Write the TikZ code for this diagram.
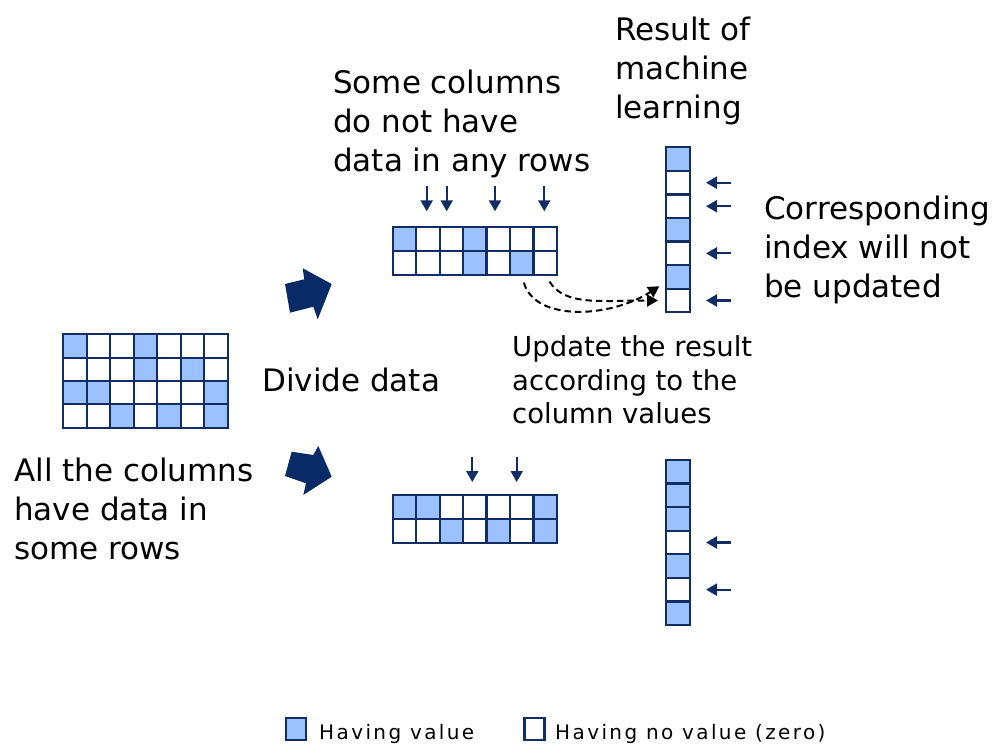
\documentclass[tikz,border=0pt]{standalone}
\usepackage{fontspec}
\setmainfont{DejaVu Sans}
\newfontfamily\legfont[LetterSpace=12]{DejaVu Sans}
\usetikzlibrary{arrows.meta}
\definecolor{cellfill}{RGB}{155,194,255}
\definecolor{navy}{RGB}{18,45,100}
\definecolor{arrownavy}{RGB}{8,42,102}
\tikzset{
  cellbase/.style={draw=navy, line width=2.2pt, inner sep=0pt, outer sep=0pt},
  cell1/.style={cellbase, fill=cellfill},
  cell0/.style={cellbase, fill=white},
  bigtxt/.style={font=\fontsize{31}{39}\selectfont, inner sep=0pt, anchor=base west, text=black},
  midtxt/.style={font=\fontsize{27.5}{33}\selectfont, inner sep=0pt, anchor=base west, text=black},
  legtxt/.style={font=\legfont\fontsize{20}{24}\selectfont, inner sep=0pt, anchor=base west, text=black},
  pointer/.style={draw=navy, line width=2.2pt, -{Triangle[width=12pt,length=11pt]}},
  dashlink/.style={draw=black, line width=2pt, dash pattern=on 6.5pt off 4pt,
    -{Triangle[width=12pt,length=11pt]}, shorten <=8pt, shorten >=8pt},
  blockarrow/.style={fill=arrownavy, draw=none},
}
\newcommand\mkgrid[6]{%
  \foreach \rowvals [count=\r] in {#6} {%
    \foreach \v [count=\c] in \rowvals {%
      \node[cell\v, minimum width=#4pt, minimum height=#5pt] (#1-\r-\c)
        at ({#2+(\c-0.5)*#4},{#3+(\r-0.5)*#5}) {};
    }%
  }%
}
\begin{document}
\begin{tikzpicture}[x=1pt,y=-1pt]
\useasboundingbox (0,0) rectangle (1002,744);

% grids
\mkgrid{L}{63.3}{334.3}{23.5}{23.35}{{1,0,0,1,0,0,0},{0,0,0,1,0,1,0},{1,1,0,0,0,0,1},{0,0,1,0,1,0,1}}
\mkgrid{T}{392.7}{227.3}{23.45}{23.8}{{1,0,0,1,0,0,0},{0,0,0,1,0,1,0}}
\mkgrid{B}{392.7}{495}{23.45}{23.85}{{1,1,0,0,0,0,1},{0,0,1,0,1,0,1}}
\mkgrid{R}{666}{147.3}{24}{23.57}{{1},{0},{0},{1},{0},{1},{0}}
\mkgrid{S}{666}{460}{24}{23.57}{{1},{1},{1},{0},{1},{0},{1}}

% block arrows
\fill[blockarrow] (285,284) -- (304.3,279.3) -- (302.7,268.3) -- (331.7,284)
  -- (317.7,319.3) -- (313.3,306.7) -- (290,312.7) -- cycle;
\fill[blockarrow] (291.7,451.7) -- (313.3,455) -- (318.3,446) -- (331.7,476.7)
  -- (303.3,495) -- (306,483.3) -- (285,476) -- cycle;

% down pointers, top grid
\coordinate (ta1) at (426.7,186);
\coordinate (ta2) at (446.7,186);
\coordinate (ta3) at (495,186);
\coordinate (ta4) at (544.3,186);
\draw[pointer, shorten >=16pt] (ta1) -- (ta1 |- T-1-2.north);
\draw[pointer, shorten >=16pt] (ta2) -- (ta2 |- T-1-3.north);
\draw[pointer, shorten >=16pt] (ta3) -- (ta3 |- T-1-5.north);
\draw[pointer, shorten >=16pt] (ta4) -- (ta4 |- T-1-7.north);

% down pointers, bottom grid
\coordinate (ba1) at (472.3,457);
\coordinate (ba2) at (516.7,457);
\draw[pointer, shorten >=13pt] (ba1) -- (ba1 |- B-1-4.north);
\draw[pointer, shorten >=13pt] (ba2) -- (ba2 |- B-1-6.north);

% left pointers to result columns
\foreach \k in {2,3,5,7} {
  \path (R-\k-1.east) ++(41,0) coordinate (rp\k);
  \draw[pointer, shorten >=16pt] (rp\k) -- (R-\k-1.east);
}
\foreach \k in {4,6} {
  \path (S-\k-1.east) ++(41,0) coordinate (sp\k);
  \draw[pointer, shorten >=16pt] (sp\k) -- (S-\k-1.east);
}

% dashed update links
\coordinate (r6in) at ([yshift=-5pt]R-6-1.west);
\draw[dashlink] (T-2-6.south) .. controls (535,322) and (610,318) .. (r6in);
\draw[dashlink] (T-2-7.south) .. controls (565,306) and (600,300.5) .. (R-7-1.west);

% texts
\node[bigtxt] (res1) at (615,40) {Result of};
\node[bigtxt] (res2) at (615,79) {machine};
\node[bigtxt] (res3) at (615,118) {learning};

\node[bigtxt] (some1) at (333,93) {Some columns};
\node[bigtxt] (some2) at (333,132) {do not have};
\node[bigtxt] (some3) at (333,171) {data in any rows};

\node[bigtxt] (cor1) at (764,219) {Corresponding};
\node[bigtxt] (cor2) at (764,258) {index will not};
\node[bigtxt] (cor3) at (764,297) {be updated};

\node[bigtxt] (div) at (262,391) {Divide data};

\node[bigtxt] (all1) at (14,481) {All the columns};
\node[bigtxt] (all2) at (14,520) {have data in};
\node[bigtxt] (all3) at (14,559) {some rows};

\node[midtxt] (upd1) at (512,356) {Update the result};
\node[midtxt] (upd2) at (512,390) {according to the};
\node[midtxt] (upd3) at (512,423) {column values};

% legend
\node[cell1, minimum width=20pt, minimum height=22pt] (leg1) at (296,729) {};
\node[legtxt] (legt1) at (319,739) {Having value};
\node[cell0, minimum width=20pt, minimum height=22pt] (leg0) at (534.5,729) {};
\node[legtxt] (legt0) at (555,739) {Having no value (zero)};
\end{tikzpicture}
\end{document}
